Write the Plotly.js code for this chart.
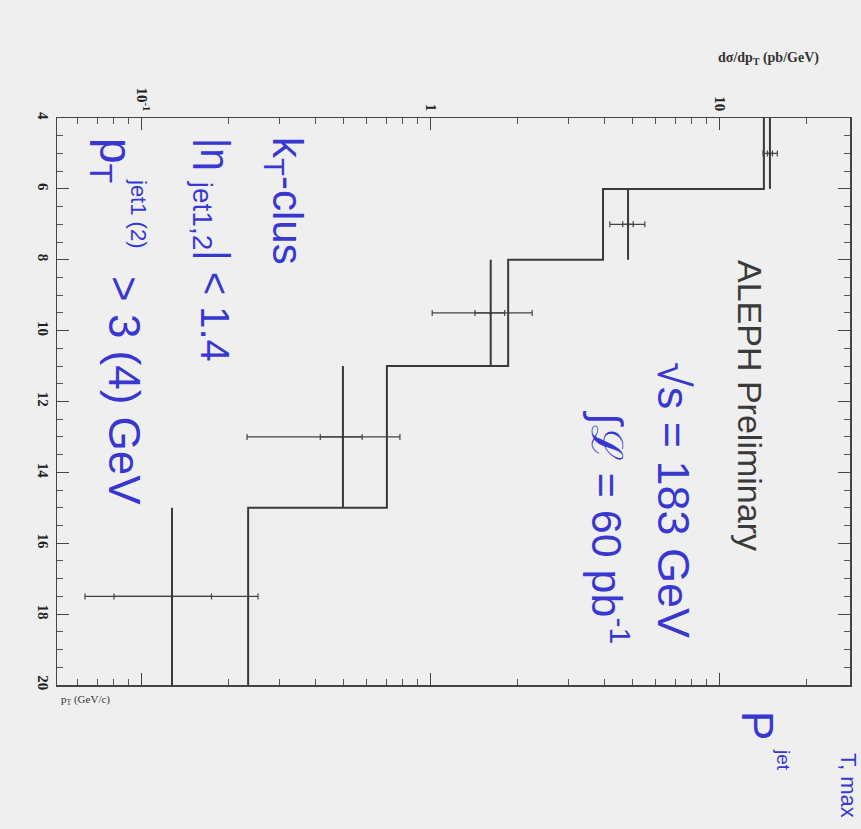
<!DOCTYPE html>
<html>
<head>
<meta charset="utf-8">
<script src="https://cdn.plot.ly/plotly-3.0.1.min.js"></script>
<style>
  html, body { margin: 0; padding: 0; background: #f0efef; }
  #chart { width: 861px; height: 829px; }
</style>
</head>
<body>
<div id="chart"></div>
<script>
// Jet pT spectrum (leading jet), ALEPH 183 GeV, drawn in portrait orientation:
// pT runs downwards, the cross section runs to the right on a log scale.

// histogram (prediction): bin edges in pT and value per bin
const binEdges = [4, 6, 8, 11, 15, 20];
const mcXsec = [14.2, 3.94, 1.85, 0.704, 0.233];

// measured points
const ptCenters = [5, 7, 9.5, 13, 17.5];
const ptHalfWidths = [1, 1, 1.5, 2, 2.5];
const dataXsec = [14.9, 4.81, 1.61, 0.496, 0.127];
const totErrUp = [0.9, 0.69, 0.63, 0.285, 0.125];
const totErrDown = [0.8, 0.65, 0.60, 0.265, 0.0635];
const statErr = [0.3, 0.2, 0.19, 0.082, 0.047];

// axis ticks
const ptTicks = [4, 6, 8, 10, 12, 14, 16, 18, 20];
const xsecTicks = [0.1, 1, 10];
const xsecTickText = ['10<sup>-1</sup>', '1', '10'];

const xsecRange = [Math.log10(0.0508), Math.log10(28.2)];
const ptRange = [20, 4];

// minor ticks of the log axis: 2..9 in every decade
const xsecMinor = [];
[0.01, 0.1, 1, 10].forEach(d => {
  for (let k = 2; k <= 9; k++) xsecMinor.push(k * d);
});

// step outline of the histogram
const histX = [], histY = [];
mcXsec.forEach((v, i) => {
  histX.push(v, v);
  histY.push(binEdges[i], binEdges[i + 1]);
});

const lineCol = '#3a3a3a';
const blue = '#3838d0';

const traces = [
  {
    x: histX, y: histY, type: 'scatter', mode: 'lines',
    line: { color: lineCol, width: 2 }, hoverinfo: 'skip'
  },
  {
    x: dataXsec, y: ptCenters, type: 'scatter', mode: 'markers',
    marker: { size: 3, color: '#333' },
    error_x: {
      type: 'data', symmetric: false, array: totErrUp, arrayminus: totErrDown,
      width: 3, thickness: 1.2, color: '#444'
    },
    error_y: {
      type: 'data', array: ptHalfWidths, width: 0, thickness: 2, color: lineCol
    }
  },
  {
    x: dataXsec, y: ptCenters, type: 'scatter', mode: 'markers',
    marker: { size: 1, color: '#333' },
    error_x: { type: 'data', array: statErr, width: 3, thickness: 1.2, color: '#444' }
  }
];

// paper coordinates from plot-area geometry
const L = 57, R = 850, T = 118, B = 685;
const px = v => (v - L) / (R - L);
const py = v => (B - v) / (B - T);

function rot(text, x, y, size, color, family) {
  return {
    text: text, xref: 'paper', yref: 'paper', x: px(x), y: py(y),
    xanchor: 'center', yanchor: 'middle', showarrow: false, textangle: 90,
    font: { family: family || 'Liberation Sans, Arial, sans-serif', size: size, color: color || blue }
  };
}

const annotations = [
  rot('ALEPH Preliminary', 750, 405, 34, '#3a3a3a'),
  rot('√s = 183 GeV', 674, 500, 45),
  rot('∫ℒ = 60 pb<sup>-1</sup>', 610, 527, 43),
  rot('k<sub>T</sub>-clus', 285, 201, 42),
  rot('|η <sub>jet1,2</sub>| < 1.4', 212, 250, 40),
  rot('p<sub>T</sub>', 113, 160, 46),
  rot('jet1 (2)', 139, 213, 22),
  rot('> 3 (4) GeV', 125, 390, 44),
  rot('P', 758, 725, 44),
  rot('jet', 784, 760, 19),
  rot('T, max', 849, 785, 22),
  {
    text: '<b>dσ/dp<sub>T</sub> (pb/GeV)</b>', xref: 'paper', yref: 'paper',
    x: px(768), y: py(58), xanchor: 'center', yanchor: 'middle', showarrow: false,
    font: { family: 'Liberation Serif, Times New Roman, serif', size: 14, color: '#333' }
  },
  {
    text: 'p<sub>T</sub> (GeV/c)', xref: 'paper', yref: 'paper',
    x: px(85), y: py(700), xanchor: 'center', yanchor: 'middle', showarrow: false,
    font: { family: 'Liberation Serif, Times New Roman, serif', size: 11, color: '#333' }
  }
];

const axisCommon = {
  showgrid: false, zeroline: false, showline: true, linecolor: '#444', linewidth: 1.5,
  mirror: 'ticks', ticks: 'inside', ticklen: 12, tickwidth: 1, tickcolor: '#444',
  tickangle: 90,
  tickfont: { family: 'Liberation Serif, Times New Roman, serif', size: 15, color: '#222', weight: 'bold' }
};

const layout = {
  width: 861, height: 829,
  margin: { l: L, r: 861 - R, t: T, b: 829 - B, pad: 0 },
  paper_bgcolor: '#f0efef', plot_bgcolor: '#f0efef',
  showlegend: false,
  xaxis: Object.assign({}, axisCommon, {
    type: 'log', range: xsecRange, side: 'top',
    tickmode: 'array', tickvals: xsecTicks, ticktext: xsecTickText,
    minor: { tickmode: 'array', tickvals: xsecMinor, ticks: 'inside', ticklen: 6, tickcolor: '#555', tickwidth: 1 }
  }),
  yaxis: Object.assign({}, axisCommon, {
    range: ptRange, autorange: false,
    tickmode: 'array', tickvals: ptTicks,
    minor: { dtick: 0.5, tick0: 4, ticks: 'inside', ticklen: 6, tickcolor: '#555', tickwidth: 1 }
  }),
  annotations: annotations
};

Plotly.newPlot('chart', traces, layout, { displayModeBar: false, staticPlot: true });
</script>
</body>
</html>
